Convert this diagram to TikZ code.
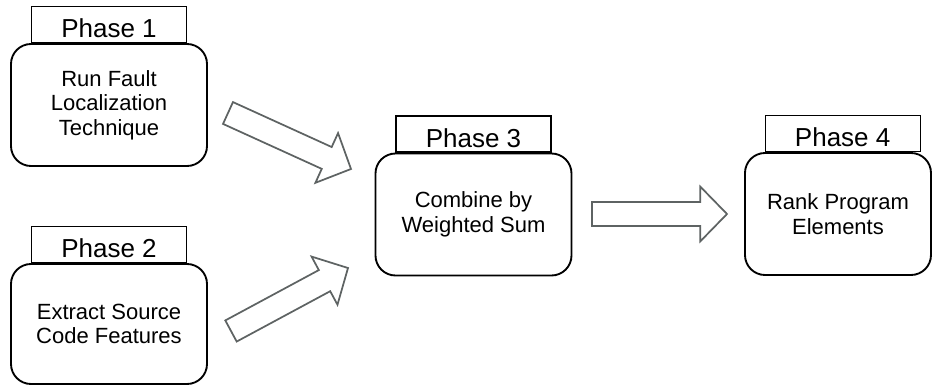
\documentclass[tikz,border=0pt]{standalone}
\usepackage{fontspec}
\setmainfont{Liberation Sans}
\usepackage{tikz}
\usetikzlibrary{calc}
\usetikzlibrary{positioning}

\definecolor{arrowgray}{RGB}{94,99,99}

% hollow block arrow from tail #1 to tip #2
\newcommand{\fatarrow}[2]{%
  \coordinate (#1base) at ($(#2)!20pt!(#1)$);
  \draw[fatarrow] ($(#1)!9pt!90:(#2)$) -- ($(#1base)!9pt!90:(#2)$)
    -- ($(#1base)!20.5pt!90:(#2)$) -- (#2) -- ($(#1base)!20.5pt!-90:(#2)$)
    -- ($(#1base)!9pt!-90:(#2)$) -- ($(#1)!9pt!-90:(#2)$) -- cycle;
}

\begin{document}
\begin{tikzpicture}[x=0.75pt,y=-0.75pt,
    phasebox/.style={draw,line width=1.4pt,rounded corners=15pt,align=center,
      minimum width=147pt,minimum height=91.5pt,inner sep=0pt,
      font=\fontsize{16.5}{18.5}\selectfont},
    tab/.style={draw,line width=1pt,minimum width=116.25pt,minimum height=27pt,
      inner sep=0pt,text height=20pt,text depth=0pt,
      font=\fontsize{19.5}{22}\selectfont},
    fatarrow/.style={draw=arrowgray,line width=1.3pt,line join=miter,fill=white}]
  \useasboundingbox (0,0) rectangle (933,385);

  \node[phasebox] (p1) at (109,105) {Run Fault\\Localization\\Technique};
  \node[phasebox,minimum height=90pt] (p2) at (109,324) {Extract Source\\Code Features};
  \node[phasebox] (p3) at (473.5,214.5) {Combine by\\Weighted Sum};
  \node[phasebox,minimum width=139.5pt] (p4) at (838,214) {Rank Program\\Elements};

  \node[tab,above=0pt of p1] (t1) {Phase 1};
  \node[tab,above=0pt of p2] (t2) {Phase 2};
  \node[tab,above=0pt of p3] (t3) {Phase 3};
  \node[tab,above=0pt of p4,xshift=3.5pt] (t4) {Phase 4};

  % arrow ends
  \coordinate (a1) at (228,113);
  \coordinate (b1) at (351,169);
  \coordinate (a2) at (231,331);
  \coordinate (b2) at (348,268);
  \coordinate (a3) at (592,214);
  \coordinate (b3) at (727,214);

  \fatarrow{a1}{b1}
  \fatarrow{a2}{b2}
  \fatarrow{a3}{b3}
\end{tikzpicture}
\end{document}
